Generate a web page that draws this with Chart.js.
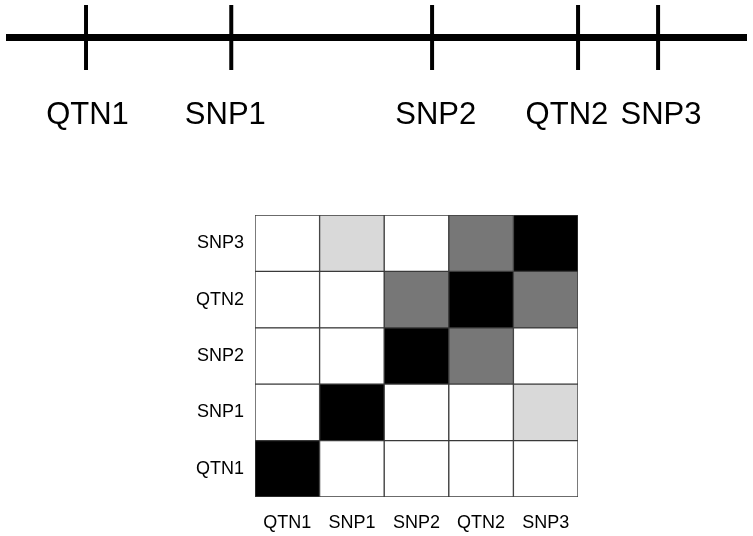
<!DOCTYPE html>
<html>
<head>
<meta charset="utf-8">
<script src="https://cdn.jsdelivr.net/npm/chart.js@4/dist/chart.umd.min.js"></script>
<style>
  body { margin: 0; background: #fff; }
  #wrap { position: relative; width: 753px; height: 536px; overflow: hidden; }
  #mapChart { position: absolute; left: 0; top: 0; }
  #ldChart { position: absolute; left: 150px; top: 200px; }
</style>
</head>
<body>
<div id="wrap">
  <canvas id="mapChart" width="753" height="150"></canvas>
  <canvas id="ldChart" width="440" height="336"></canvas>
</div>
<script>
// marker map (positions along the chromosome, arbitrary units 0..1000)
const markerNames = ["QTN1", "SNP1", "SNP2", "QTN2", "SNP3"]
const markerPos = [108, 304, 575, 772, 880]
const labelPos = [110, 296, 580, 757, 884]
const chromStart = 0
const chromEnd = 1000

// LD matrix, one array per row (bottom to top), columns follow markerNames
const rowLabels = ["QTN1", "SNP1", "SNP2", "QTN2", "SNP3"]
const colLabels = ["QTN1", "SNP1", "SNP2", "QTN2", "SNP3"]
const ldQTN1 = [1, 0, 0, 0, 0]
const ldSNP1 = [0, 1, 0, 0, 0.2]
const ldSNP2 = [0, 0, 1, 0.5, 0]
const ldQTN2 = [0, 0, 0.5, 1, 0.5]
const ldSNP3 = [0, 0.2, 0, 0.5, 1]
const ldRows = [ldQTN1, ldSNP1, ldSNP2, ldQTN2, ldSNP3]

function shade(v) {
    if (v >= 0.9) return "#000000"
    if (v >= 0.4) return "#777777"
    if (v > 0) return "#d9d9d9"
    return "#ffffff"
}

Chart.defaults.font.family = "'Liberation Sans', Arial, sans-serif"
Chart.defaults.color = "#000"

// draws marker names under the chromosome line
const markerLabels = {
    id: "markerLabels",
    afterDraw(chart) {
        const ctx = chart.ctx
        const x = chart.scales.x
        ctx.save()
        ctx.font = "31px 'Liberation Sans', Arial, sans-serif"
        ctx.fillStyle = "#000"
        ctx.textAlign = "center"
        ctx.textBaseline = "alphabetic"
        markerNames.forEach((name, i) => {
            ctx.fillText(name, x.getPixelForValue(labelPos[i]), 124)
        })
        ctx.restore()
    }
}

new Chart(document.getElementById("mapChart"), {
    type: "line",
    data: {
        datasets: [
            {
                data: [{x: chromStart, y: 0.5}, {x: chromEnd, y: 0.5}],
                borderColor: "#000",
                borderWidth: 7,
                pointRadius: 0,
                clip: false
            },
            {
                data: markerPos.map(p => ({x: p, y: 0.5})),
                showLine: false,
                pointStyle: "line",
                rotation: 90,
                pointRadius: 32.5,
                pointBorderWidth: 4,
                pointBorderColor: "#000",
                clip: false
            }
        ]
    },
    options: {
        responsive: false,
        animation: false,
        events: [],
        layout: { autoPadding: false, padding: { left: 6, right: 6, top: 5, bottom: 80 } },
        plugins: { legend: { display: false }, tooltip: { enabled: false } },
        scales: {
            x: { type: "linear", min: chromStart, max: chromEnd, display: false },
            y: { min: 0, max: 1, display: false }
        }
    },
    plugins: [markerLabels]
})

new Chart(document.getElementById("ldChart"), {
    type: "bar",
    data: {
        labels: colLabels,
        datasets: ldRows.map((row, i) => ({
            label: rowLabels[i],
            data: colLabels.map(() => 1),
            backgroundColor: row.map(shade),
            borderColor: "#3a3a3a",
            borderWidth: 1,
            borderSkipped: false,
            barPercentage: 1,
            categoryPercentage: 1
        }))
    },
    options: {
        responsive: false,
        animation: false,
        events: [],
        layout: { autoPadding: false, padding: { left: 0, right: 12, top: 15, bottom: 0 } },
        plugins: { legend: { display: false }, tooltip: { enabled: false } },
        scales: {
            x: {
                stacked: true,
                grid: { display: false, drawTicks: false },
                border: { display: false },
                ticks: { font: { size: 18 }, padding: 15, maxRotation: 0 },
                afterFit: s => { s.height = 39; s.paddingLeft = 0; s.paddingRight = 0 }
            },
            y: {
                stacked: true,
                min: 0,
                max: rowLabels.length,
                grid: { display: false, drawTicks: false },
                border: { display: false },
                afterBuildTicks: s => { s.ticks = rowLabels.map((_, i) => ({value: i + 0.5})) },
                ticks: {
                    font: { size: 18 },
                    padding: 11,
                    callback: (v, i) => rowLabels[i]
                },
                afterFit: s => { s.width = 105; s.paddingTop = 0; s.paddingBottom = 0 }
            }
        }
    }
})
</script>
</body>
</html>
